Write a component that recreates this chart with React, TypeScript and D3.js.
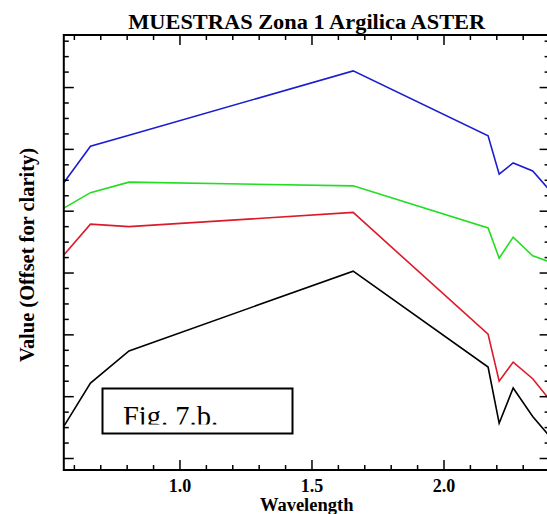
import React, { useEffect, useRef } from "react";
import * as d3 from "d3";

// ASTER band centres (micrometres)
const wavelengths = [0.56, 0.661, 0.807, 1.656, 2.167, 2.209, 2.262, 2.336, 2.4];

// values (offset for clarity)
const blueValues = [0.446, 0.505, 0.523, 0.627, 0.522, 0.46, 0.478, 0.465, 0.434];
const greenValues = [0.405, 0.43, 0.447, 0.441, 0.373, 0.324, 0.358, 0.328, 0.318];
const redValues = [0.329, 0.379, 0.375, 0.398, 0.201, 0.125, 0.156, 0.129, 0.095];
const blackValues = [0.052, 0.122, 0.174, 0.303, 0.148, 0.057, 0.114, 0.068, 0.036];

const seriesList = [blueValues, greenValues, redValues, blackValues];
const seriesColors = ["#1c1cd0", "#22dd22", "#dd1a2a", "#000000"];

const xMajorTicks = [1.0, 1.5, 2.0];
const xTickLabels = ["1.0", "1.5", "2.0"];
const xMinorTicks = d3.range(6, 25).map((d) => d / 10);
const yMajorTicks = d3.range(0, 7).map((d) => d / 10);
const yMinorTicks = d3.range(0, 28).map((d) => d * 0.025);

const title = "MUESTRAS Zona 1 Argilica ASTER";
const xTitle = "Wavelength";
const yTitle = "Value (Offset for clarity)";
const boxText = "Fig. 7.b.";

const App = () => {
  const svgRef = useRef(null);
  const width = 547;
  const height = 514;
  const left = 63.8; // plot frame
  const right = 549.6;
  const top = 35;
  const bottom = 470;

  useEffect(() => {
    const svg = d3.select(svgRef.current);
    svg.selectAll("*").remove();

    const x = d3.scaleLinear().domain([0.56, 2.4]).range([left, right]);
    const y = d3.scaleLinear().domain([-0.0186, 0.685]).range([bottom, top]);

    const serif = "'Liberation Serif', 'Times New Roman', serif";

    // lines
    const line = d3
      .line<number>()
      .x((d, i) => x(wavelengths[i]))
      .y((d) => y(d));

    seriesList.forEach((vals, i) => {
      svg
        .append("path")
        .datum(vals)
        .attr("d", line)
        .attr("fill", "none")
        .attr("stroke", seriesColors[i])
        .attr("stroke-width", 1.6);
    });

    // frame
    svg
      .append("rect")
      .attr("x", left)
      .attr("y", top)
      .attr("width", right - left)
      .attr("height", bottom - top)
      .attr("fill", "none")
      .attr("stroke", "#000")
      .attr("stroke-width", 2);

    const tickG = svg.append("g").attr("stroke", "#000").attr("stroke-width", 1.5);

    // x ticks, bottom and top, pointing inward
    const xTick = (v: number, len: number) => {
      tickG.append("line").attr("x1", x(v)).attr("x2", x(v)).attr("y1", bottom).attr("y2", bottom - len);
      tickG.append("line").attr("x1", x(v)).attr("x2", x(v)).attr("y1", top).attr("y2", top + len);
    };
    xMinorTicks.forEach((v) => xTick(v, xMajorTicks.some((m) => Math.abs(m - v) < 1e-6) ? 10 : 5));

    // y ticks, left and right
    const yTick = (v: number, len: number) => {
      tickG.append("line").attr("x1", left).attr("x2", left + len).attr("y1", y(v)).attr("y2", y(v));
      tickG.append("line").attr("x1", right).attr("x2", right - len).attr("y1", y(v)).attr("y2", y(v));
    };
    yMinorTicks.forEach((v) => yTick(v, yMajorTicks.some((m) => Math.abs(m - v) < 1e-6) ? 10 : 5));

    // x tick labels
    svg
      .selectAll("text.xlab")
      .data(xMajorTicks)
      .join("text")
      .attr("class", "xlab")
      .attr("x", (d) => x(d))
      .attr("y", 491.5)
      .attr("text-anchor", "middle")
      .attr("font-family", serif)
      .attr("font-weight", "bold")
      .attr("font-size", 18)
      .text((d, i) => xTickLabels[i]);

    // titles
    svg
      .append("text")
      .attr("x", (left + right) / 2)
      .attr("y", 28.5)
      .attr("text-anchor", "middle")
      .attr("font-family", serif)
      .attr("font-weight", "bold")
      .attr("font-size", 22)
      .attr("textLength", 357)
      .attr("lengthAdjust", "spacingAndGlyphs")
      .text(title);

    svg
      .append("text")
      .attr("x", (left + right) / 2)
      .attr("y", 510.5)
      .attr("text-anchor", "middle")
      .attr("font-family", serif)
      .attr("font-weight", "bold")
      .attr("font-size", 18.5)
      .text(xTitle);

    svg
      .append("text")
      .attr("transform", "translate(34,255) rotate(-90)")
      .attr("text-anchor", "middle")
      .attr("font-family", serif)
      .attr("font-weight", "bold")
      .attr("font-size", 20)
      .attr("textLength", 214)
      .attr("lengthAdjust", "spacingAndGlyphs")
      .text(yTitle);

    // figure label box, text cut off at its baseline
    svg
      .append("clipPath")
      .attr("id", "figclip")
      .append("rect")
      .attr("x", 102)
      .attr("y", 388)
      .attr("width", 190)
      .attr("height", 36.5);

    svg
      .append("rect")
      .attr("x", 102.5)
      .attr("y", 388.5)
      .attr("width", 190)
      .attr("height", 45)
      .attr("fill", "#fff")
      .attr("stroke", "#000")
      .attr("stroke-width", 2);

    svg
      .append("text")
      .attr("x", 123)
      .attr("y", 425.5)
      .attr("clip-path", "url(#figclip)")
      .attr("font-family", serif)
      .attr("font-size", 28.5)
      .text(boxText);
  }, []);

  return (
    <svg
      ref={svgRef}
      width={width}
      height={height}
      style={{ position: "absolute", left: 0, top: 0, background: "#fff" }}
    ></svg>
  );
};

export default App;
